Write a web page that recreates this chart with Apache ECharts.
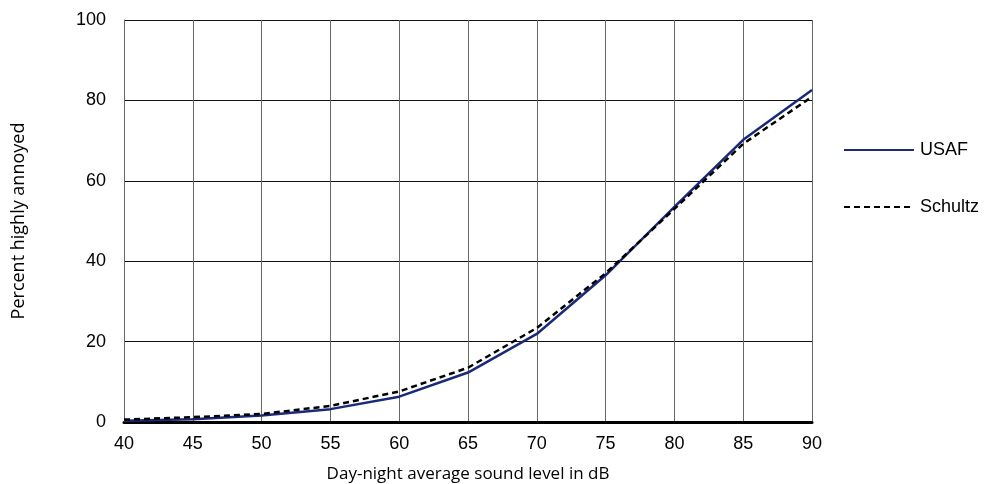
<!DOCTYPE html>
<html><head><meta charset="utf-8">
<script src="https://cdn.jsdelivr.net/npm/echarts@6/dist/echarts.min.js"></script>
<style>html,body{margin:0;padding:0;background:#fff}#c{width:985px;height:484px}</style>
</head><body><div id="c"></div>
<script>
const levels = [40, 45, 50, 55, 60, 65, 70, 75, 80, 85, 90];
const usaf = [0.3, 0.7, 1.6, 3.2, 6.3, 12.3, 21.9, 36.5, 53.5, 70.2, 82.6];
const schultz = [0.6, 1.2, 2.0, 4.0, 7.6, 13.5, 23.4, 37.0, 53.0, 69.2, 80.9];
const yTicks = [0, 20, 40, 60, 80, 100];
const xTitle = 'Day-night average sound level in dB';
const yTitle = 'Percent highly annoyed';

const chart = echarts.init(document.getElementById('c'), null, {renderer: 'canvas'});
chart.setOption({
  animation: false,
  grid: {left: 124, right: 173, top: 20, bottom: 62, containLabel: false, outerBoundsMode: 'none'},
  legend: {
    orient: 'vertical', left: 843, top: 141, padding: 0, itemGap: 39, itemWidth: 70, itemHeight: 18,
    itemStyle: {opacity: 0},
    textStyle: {fontFamily: 'Liberation Sans', fontSize: 18, color: '#000', padding: [0,0,0,1]},
    data: ['USAF', 'Schultz']
  },
  xAxis: {
    type: 'value', min: 40, max: 90, interval: 5,
    name: xTitle, nameLocation: 'middle', nameGap: 44,
    nameTextStyle: {fontFamily: 'Open Sans', fontSize: 17, color: '#000'},
    axisLine: {show: true, lineStyle: {color: '#000', width: 3}},
    axisTick: {show: false},
    axisLabel: {fontFamily: 'Liberation Sans', fontSize: 18, color: '#000', margin: 13},
    splitLine: {show: true, lineStyle: {color: '#666', width: 1}}
  },
  yAxis: {
    type: 'value', min: 0, max: 100, interval: 20,
    name: yTitle, nameLocation: 'middle', nameGap: 96, nameRotate: 90,
    nameTextStyle: {fontFamily: 'Open Sans', fontSize: 18, color: '#000'},
    axisLine: {show: true, lineStyle: {color: '#666', width: 1}},
    axisTick: {show: false},
    axisLabel: {fontFamily: 'Liberation Sans', fontSize: 18, color: '#000', margin: 18},
    splitLine: {show: true, lineStyle: {color: '#111', width: 1}}
  },
  series: [
    {name: 'USAF', type: 'line', symbol: 'none', z: 3,
     lineStyle: {color: '#1a2a78', width: 2.5},
     itemStyle: {color: '#1a2a78'},
     data: levels.map((x, i) => [x, usaf[i]])},
    {name: 'Schultz', type: 'line', symbol: 'none', z: 4,
     lineStyle: {color: '#000', width: 2.5, type: [6, 4]},
     itemStyle: {color: '#000'},
     data: levels.map((x, i) => [x, schultz[i]])}
  ]
});
</script></body></html>
